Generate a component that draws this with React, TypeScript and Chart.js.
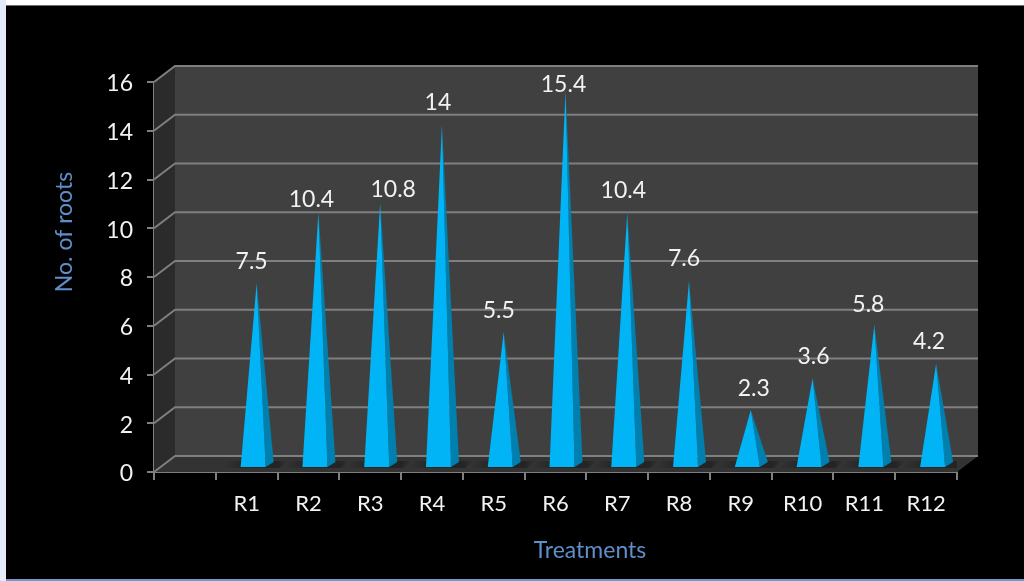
import { useEffect, useRef } from "react";
import { Chart, BarController, BarElement, CategoryScale, LinearScale } from "chart.js";

// Leading blank category leaves the empty slot next to the value axis.
const categories = ["", "R1", "R2", "R3", "R4", "R5", "R6", "R7", "R8", "R9", "R10", "R11", "R12"];
const rootCounts = [null, 7.5, 10.4, 10.8, 14, 5.5, 15.4, 10.4, 7.6, 2.3, 3.6, 5.8, 4.2];
const yTicks = [0, 2, 4, 6, 8, 10, 12, 14, 16];

// Hand-placed value label nudges, relative to each spire's tip.
const labelShiftX = [0, -5, -7, 13, -4, -5, -2, -4, -5, 3, 1, -6, -7];
const labelLift = [0, 24, 15, 15, 24, 23, 8, 24, 24, 23, 24, 22, 24];

const FONT = "Lato, Carlito, 'Open Sans', sans-serif";
const DEPTH_X = 21;
const DEPTH_Y = 16;
const GRID = "#7f7f7f";

// Bar element drawn as a four-sided spire standing on the floor of the 3D box.
class SpireElement extends BarElement {
  static id = "spire";
  draw(ctx: CanvasRenderingContext2D) {
    const el = this as any;
    const { x, y, base } = el.getProps(["x", "y", "base"], true);
    if (y == null || isNaN(y)) return;
    const left = x - 6;
    const right = x + 19;
    const sideX = x + 27;
    const floor = base - 4;
    const tipX = x + 10;
    const tipY = y - 6;

    ctx.save();
    // Soft contact shadow on the floor
    const shadow = ctx.createLinearGradient(left - 18, 0, sideX + 14, 0);
    shadow.addColorStop(0, "rgba(30,30,30,0)");
    shadow.addColorStop(0.4, "rgba(30,30,30,0.7)");
    shadow.addColorStop(0.85, "rgba(30,30,30,0.7)");
    shadow.addColorStop(1, "rgba(30,30,30,0)");
    ctx.fillStyle = shadow;
    ctx.beginPath();
    ctx.moveTo(left - 18, floor + 1);
    ctx.lineTo(sideX + 6, floor + 1);
    ctx.lineTo(sideX + 14, floor - 6);
    ctx.lineTo(left - 10, floor - 6);
    ctx.closePath();
    ctx.fill();

    ctx.fillStyle = "#0080ae";
    ctx.beginPath();
    ctx.moveTo(right, floor);
    ctx.lineTo(sideX, floor - 5);
    ctx.lineTo(tipX, tipY);
    ctx.closePath();
    ctx.fill();

    ctx.fillStyle = "#00b4f5";
    ctx.beginPath();
    ctx.moveTo(left, floor);
    ctx.lineTo(right, floor);
    ctx.lineTo(tipX, tipY);
    ctx.closePath();
    ctx.fill();
    ctx.restore();
  }
}

class SpireController extends BarController {
  static id = "spire";
  static defaults = { ...(BarController as any).defaults, dataElementType: "spire" };
  static overrides = (BarController as any).overrides;
}

Chart.register(SpireController, SpireElement, CategoryScale, LinearScale);

const polygon = (ctx: CanvasRenderingContext2D, pts: number[][], fill: string) => {
  ctx.fillStyle = fill;
  ctx.beginPath();
  pts.forEach(([px, py], i) => (i ? ctx.lineTo(px, py) : ctx.moveTo(px, py)));
  ctx.closePath();
  ctx.fill();
};

// Slide panel: black field with a pale left edge and a blue rule below.
const panelPlugin = {
  id: "panel",
  beforeDraw(chart: Chart) {
    const { ctx, width, height } = chart;
    ctx.save();
    ctx.fillStyle = "#ffffff";
    ctx.fillRect(0, 0, width, height);
    ctx.fillStyle = "#e4ecf8";
    ctx.fillRect(0, 0, 6, height);
    ctx.fillStyle = "#000000";
    ctx.fillRect(6, 5, width - 6, 574);
    ctx.fillStyle = "#6c6c6c";
    ctx.fillRect(6, 5, width - 6, 1);
    ctx.fillStyle = "#6f97cc";
    ctx.fillRect(6, 579, width - 6, 2);
    ctx.restore();
  },
};

// Back wall, side wall, floor and their gridlines of the 3D box.
const boxPlugin = {
  id: "box",
  beforeDatasetsDraw(chart: Chart) {
    const { ctx, chartArea, scales } = chart;
    const { left, right, top, bottom } = chartArea;
    ctx.save();
    polygon(ctx, [[left + DEPTH_X, top - DEPTH_Y], [right + DEPTH_X, top - DEPTH_Y], [right + DEPTH_X, bottom - DEPTH_Y], [left + DEPTH_X, bottom - DEPTH_Y]], "#404040");
    polygon(ctx, [[left, top], [left + DEPTH_X, top - DEPTH_Y], [left + DEPTH_X, bottom - DEPTH_Y], [left, bottom]], "#2b2b2b");
    polygon(ctx, [[left, bottom], [left + DEPTH_X, bottom - DEPTH_Y], [right + DEPTH_X, bottom - DEPTH_Y], [right, bottom]], "#333333");

    ctx.strokeStyle = GRID;
    ctx.lineWidth = 2;
    yTicks.forEach((t) => {
      const py = scales.y.getPixelForValue(t);
      ctx.beginPath();
      ctx.moveTo(left, py);
      ctx.lineTo(left + DEPTH_X, py - DEPTH_Y);
      ctx.lineTo(right + DEPTH_X, py - DEPTH_Y);
      ctx.stroke();
    });
    ctx.restore();
  },
};

// Lato sits high on its middle baseline, so the value-axis numbers are nudged down.
const tickNudgePlugin = {
  id: "tickNudge",
  afterUpdate(chart: Chart) {
    (chart.scales.y as any).getLabelItems().forEach((item: any) => {
      item.options.translation[1] += 2;
    });
  },
};

// Value labels above each spire and the two axis captions.
const textPlugin = {
  id: "captions",
  afterDraw(chart: Chart) {
    const { ctx } = chart;
    const meta = chart.getDatasetMeta(0);
    ctx.save();
    ctx.textAlign = "center";
    ctx.textBaseline = "middle";
    ctx.fillStyle = "#f2f2f2";
    ctx.font = `23px ${FONT}`;
    rootCounts.forEach((v, i) => {
      if (v == null) return;
      const bar = meta.data[i] as any;
      ctx.fillText(String(v), bar.x + 10 + labelShiftX[i], bar.y - 4 - labelLift[i]);
    });
    ctx.fillStyle = "#5f8fca";
    ctx.font = `23px ${FONT}`;
    ctx.fillText("Treatments", 590, 551);
    ctx.translate(65, 232);
    ctx.rotate(-Math.PI / 2);
    ctx.fillText("No. of roots", 0, 0);
    ctx.restore();
  },
};

export default function App() {
  const canvasRef = useRef<HTMLCanvasElement>(null);

  useEffect(() => {
    document.body.style.margin = "0";
    const chart = new Chart(canvasRef.current!, {
      type: "spire" as any,
      data: {
        labels: categories,
        datasets: [{ data: rootCounts as any, barPercentage: 0.8, categoryPercentage: 1 }],
      },
      plugins: [panelPlugin, boxPlugin, tickNudgePlugin, textPlugin],
      options: {
        responsive: false,
        animation: false,
        layout: { padding: { top: 82, right: 67, left: 0, bottom: 0 } },
        plugins: { legend: { display: false }, tooltip: { enabled: false } } as any,
        scales: {
          x: {
            type: "category",
            offset: true,
            afterFit: (s: any) => { s.height = 109; },
            grid: { offset: true, drawOnChartArea: false, drawTicks: true, tickLength: 8, color: GRID, lineWidth: 2 },
            border: { color: GRID, width: 2 },
            ticks: { color: "#f2f2f2", font: { family: FONT, size: 22 }, padding: 11, maxRotation: 0, autoSkip: false },
          },
          y: {
            type: "linear",
            min: 0,
            max: 16,
            afterFit: (s: any) => { s.width = 154; },
            afterBuildTicks: (s: any) => { s.ticks = yTicks.map((value) => ({ value })); },
            grid: { drawOnChartArea: false, drawTicks: true, tickLength: 7, color: GRID, lineWidth: 2 },
            border: { color: GRID, width: 2 },
            ticks: { color: "#f2f2f2", font: { family: FONT, size: 23 }, padding: 14 },
          },
        },
      },
    });
    return () => chart.destroy();
  }, []);

  return <canvas ref={canvasRef} width={1024} height={581} style={{ display: "block" }} />;
}
